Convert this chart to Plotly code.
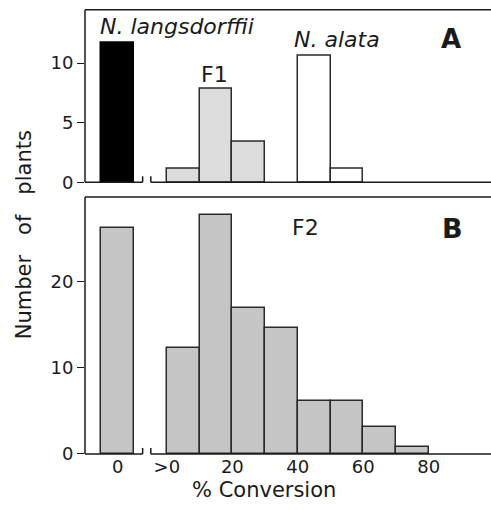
import plotly.graph_objects as go

# ---- data ----
bin_width = 10
zero_pos = -15  # position of the "0 % conversion" class

# Panel A
langsdorffii_zero = [11.7]
f1_bins = [0, 10, 20]
f1_counts = [1.1, 7.8, 3.4]
alata_bins = [40, 50]
alata_counts = [10.6, 1.1]

# Panel B
f2_zero = [26.2]
f2_bins = [0, 10, 20, 30, 40, 50, 60, 70]
f2_counts = [12.3, 27.7, 16.9, 14.6, 6.1, 6.1, 3.1, 0.8]

x_tickvals = [-15, 0, 20, 40, 60, 80]
x_ticktext = ["0", ">0", "20", "40", "60", "80"]
yA_ticks = [0, 5, 10]
yB_ticks = [0, 10, 20]

W, H = 491, 510
FONT = "DejaVu Sans"
INK = "#1a1a1a"
EDGE = "#2a2a2a"

def px_x(p):
    return p / W

def px_y(p):
    return 1 - p / H

fig = go.Figure()

def centers(starts):
    return [s + bin_width / 2 for s in starts]

# Panel A traces
fig.add_trace(go.Bar(x=[zero_pos], y=langsdorffii_zero, width=bin_width,
                     marker=dict(color="#000000", line=dict(color="#000000", width=1.5)),
                     xaxis="x", yaxis="y", showlegend=False))
fig.add_trace(go.Bar(x=centers(f1_bins), y=f1_counts, width=bin_width,
                     marker=dict(color="#dcdcdc", line=dict(color=EDGE, width=1.5)),
                     xaxis="x", yaxis="y", showlegend=False))
fig.add_trace(go.Bar(x=centers(alata_bins), y=alata_counts, width=bin_width,
                     marker=dict(color="#ffffff", line=dict(color=EDGE, width=1.5)),
                     xaxis="x", yaxis="y", showlegend=False))

# Panel B traces
pattern = dict(shape=".", size=2, solidity=0.35, fgcolor="#a8a8a8", bgcolor="#d6d6d6", fillmode="replace")
fig.add_trace(go.Bar(x=[zero_pos], y=f2_zero, width=bin_width,
                     marker=dict(color="#c8c8c8", pattern=pattern, line=dict(color=EDGE, width=1.5)),
                     xaxis="x2", yaxis="y2", showlegend=False))
fig.add_trace(go.Bar(x=centers(f2_bins), y=f2_counts, width=bin_width,
                     marker=dict(color="#c8c8c8", pattern=pattern, line=dict(color=EDGE, width=1.5)),
                     xaxis="x2", yaxis="y2", showlegend=False))

xrange = [-25, 99]
dom_x = [px_x(85), 1.0]
domA = [px_y(186), px_y(10)]
domB = [px_y(463), px_y(201)]

tickfont = dict(family=FONT, size=18, color=INK)

fig.update_layout(
    width=W, height=H,
    margin=dict(l=0, r=0, t=0, b=0),
    paper_bgcolor="white", plot_bgcolor="white",
    bargap=0,
    xaxis=dict(domain=dom_x, range=xrange, showgrid=False, zeroline=False,
               showticklabels=False, ticks="", showline=False, anchor="y"),
    yaxis=dict(domain=domA, range=[0, 14.46], showgrid=False, zeroline=False,
               tickvals=yA_ticks, ticks="outside", ticklen=7, tickwidth=1.2,
               tickcolor=INK, tickfont=tickfont, showline=False, anchor="x"),
    xaxis2=dict(domain=dom_x, range=xrange, showgrid=False, zeroline=False,
                tickvals=x_tickvals, ticktext=x_ticktext, ticks="",
                tickfont=tickfont, showline=False, anchor="y2"),
    yaxis2=dict(domain=domB, range=[0, 29.8], showgrid=False, zeroline=False,
                tickvals=yB_ticks, ticks="outside", ticklen=7, tickwidth=1.2,
                tickcolor=INK, tickfont=tickfont, showline=False, anchor="x2"),
)

shapes = []
lw = 1.5
for xa, ya in (("x", "y"), ("x2", "y2")):
    xd, yd = xa + " domain", ya + " domain"
    shapes.append(dict(type="line", xref=xd, yref=yd, x0=0, x1=0, y0=0, y1=1,
                       line=dict(color=INK, width=lw), layer="above"))
    shapes.append(dict(type="line", xref=xd, yref=yd, x0=0, x1=1.01, y0=1, y1=1,
                       line=dict(color=INK, width=lw), layer="above"))
    shapes.append(dict(type="line", xref=xa, yref=yd, x0=xrange[0], x1=-7.4, y0=0, y1=0,
                       line=dict(color=INK, width=lw), layer="above"))
    shapes.append(dict(type="line", xref=xa, yref=yd, x0=-4.9, x1=xrange[1] + 2, y0=0, y1=0,
                       line=dict(color=INK, width=lw), layer="above"))
    for bx in (-7.4, -4.9):
        shapes.append(dict(type="line", xref=xa, yref=ya, ysizemode="pixel", yanchor=0,
                           x0=bx, x1=bx, y0=-6, y1=6,
                           line=dict(color=INK, width=lw), layer="above"))
fig.update_layout(shapes=shapes)

def ann(text, x, y, size, italic=False, bold=False, angle=0, yanchor="middle"):
    return dict(text=text, x=px_x(x), y=px_y(y), xref="paper", yref="paper",
                xanchor="center", yanchor=yanchor, showarrow=False, textangle=angle,
                font=dict(family=FONT, size=size, color=INK,
                          style="italic" if italic else "normal",
                          weight="bold" if bold else "normal"))

fig.update_layout(annotations=[
    ann("N. langsdorffii", 177, 27, 22, italic=True),
    ann("N. alata", 337, 40, 22, italic=True),
    ann("F1", 214, 76, 22),
    ann("A", 451, 40, 26, bold=True),
    ann("F2", 305, 232, 22),
    ann("B", 452, 233, 27, bold=True),
    ann("% Conversion", 264, 500, 21),
    ann("Number   of   plants", 24, 240, 21, angle=-90),
])

post = """
var gd = document.getElementById('{plot_id}');
var de = document.documentElement, b = document.body;
de.style.margin = '0'; de.style.padding = '0'; de.style.overflow = 'hidden';
de.style.height = '510px';
b.style.margin = '0'; b.style.padding = '0'; b.style.overflow = 'hidden';
b.style.height = '510px'; b.style.fontSize = '0'; b.style.lineHeight = '0';
if (gd && gd.parentElement) {
  gd.parentElement.style.height = '510px';
  gd.parentElement.style.overflow = 'hidden';
  gd.style.display = 'block';
}
"""

fig.write_html("out.html", config={"displayModeBar": False}, post_script=post)
